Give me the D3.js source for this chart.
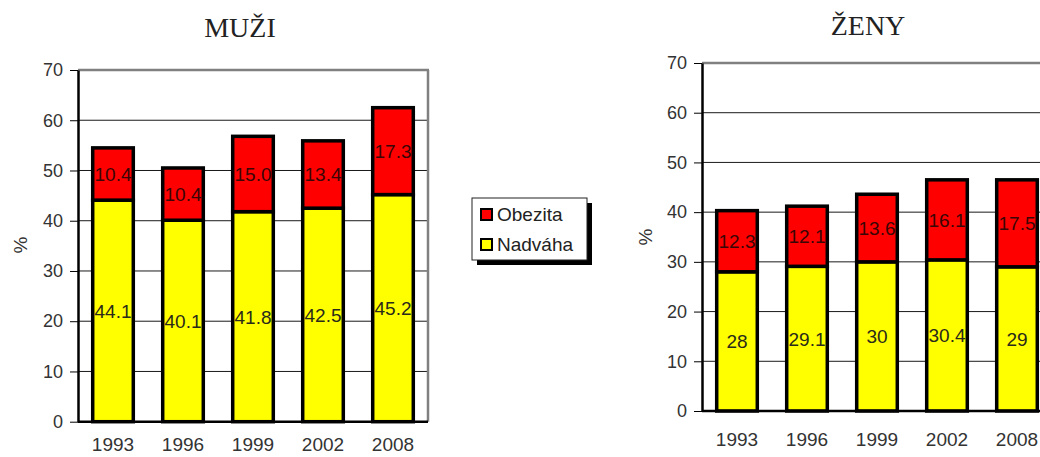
<!DOCTYPE html>
<html>
<head>
<meta charset="utf-8">
<script src="https://cdn.jsdelivr.net/npm/d3@7/dist/d3.min.js"></script>
<style>
  html, body { margin: 0; padding: 0; background: #fff; }
  svg { display: block; }
</style>
</head>
<body>
<svg id="chart" width="1040" height="457"></svg>
<script>
// Survey years
const years = ["1993", "1996", "1999", "2002", "2008"];

// Men (%)
const menOverweight = [44.1, 40.1, 41.8, 42.5, 45.2];
const menObese = [10.4, 10.4, 15.0, 13.4, 17.3];
const menObeseLabels = ["10.4", "10.4", "15.0", "13.4", "17.3"];

// Women (%)
const womenOverweight = [28, 29.1, 30, 30.4, 29];
const womenObese = [12.3, 12.1, 13.6, 16.1, 17.5];
const womenObeseLabels = ["12.3", "12.1", "13.6", "16.1", "17.5"];

const yTicks = [0, 10, 20, 30, 40, 50, 60, 70];

const seriesNames = ["Obezita", "Nadváha"];
const RED = "#ff0000";
const YELLOW = "#ffff00";

const svg = d3.select("#chart");
const FONT = "'Liberation Sans', Arial, sans-serif";

function drawPanel(opts) {
  const g = svg.append("g");
  const x = d3.scaleBand().domain(years)
    .range([opts.left, opts.right])
    .paddingInner(0.42).paddingOuter(0.21);
  const y = d3.scaleLinear().domain([0, 70]).range([opts.bottom, opts.top]);

  // horizontal gridlines
  g.append("g").selectAll("line")
    .data(yTicks.filter(t => t > 0 && t < 70))
    .join("line")
    .attr("x1", opts.left).attr("x2", opts.right)
    .attr("y1", d => y(d)).attr("y2", d => y(d))
    .attr("stroke", "#1a1a1a").attr("stroke-width", 1);

  // plot frame: grey top and right edges
  g.append("line")
    .attr("x1", opts.left).attr("x2", opts.right + 1)
    .attr("y1", y(70)).attr("y2", y(70))
    .attr("stroke", "#808080").attr("stroke-width", 2.5);
  g.append("line")
    .attr("x1", opts.right).attr("x2", opts.right)
    .attr("y1", y(70)).attr("y2", y(0))
    .attr("stroke", "#808080").attr("stroke-width", 2.5);

  const rows = years.map((yr, i) => ({
    year: yr,
    base: opts.overweight[i],
    top: opts.obese[i],
    topLabel: opts.obeseLabels[i]
  }));

  const bars = g.append("g");
  // overweight segment
  bars.selectAll("rect.ow").data(rows).join("rect")
    .attr("class", "ow")
    .attr("x", d => x(d.year))
    .attr("width", x.bandwidth())
    .attr("y", d => y(d.base))
    .attr("height", d => y(0) - y(d.base))
    .attr("fill", YELLOW).attr("stroke", "#000").attr("stroke-width", 3.5);
  // obesity segment
  bars.selectAll("rect.ob").data(rows).join("rect")
    .attr("class", "ob")
    .attr("x", d => x(d.year))
    .attr("width", x.bandwidth())
    .attr("y", d => y(d.base + d.top))
    .attr("height", d => y(d.base) - y(d.base + d.top))
    .attr("fill", RED).attr("stroke", "#000").attr("stroke-width", 3.5);

  // value labels, centred in each segment
  const labels = g.append("g")
    .attr("font-family", FONT).attr("font-size", 19)
    .attr("text-anchor", "middle");
  labels.selectAll("text.owl").data(rows).join("text")
    .attr("class", "owl")
    .attr("x", d => x(d.year) + x.bandwidth() / 2)
    .attr("y", d => y(d.base / 2))
    .attr("dy", "0.36em")
    .attr("fill", "#2a2a1a")
    .text(d => String(d.base));
  labels.selectAll("text.obl").data(rows).join("text")
    .attr("class", "obl")
    .attr("x", d => x(d.year) + x.bandwidth() / 2)
    .attr("y", d => y(d.base + d.top / 2))
    .attr("dy", "0.36em")
    .attr("fill", "#3a0505")
    .text(d => d.topLabel);

  // y axis
  const ya = g.append("g")
    .attr("transform", `translate(${opts.left},0)`)
    .call(d3.axisLeft(y).tickValues(yTicks).tickSize(8).tickPadding(7).tickSizeOuter(0));
  ya.select(".domain").attr("stroke", "#000").attr("stroke-width", 2.5);
  ya.selectAll(".tick line").attr("stroke", "#000").attr("stroke-width", 1);
  ya.selectAll("text").attr("font-family", FONT).attr("font-size", 18).attr("fill", "#333");

  // x axis
  const xa = g.append("g")
    .attr("transform", `translate(0,${opts.bottom})`)
    .call(d3.axisBottom(x).tickSize(0).tickPadding(opts.xPad).tickSizeOuter(0));
  xa.select(".domain").attr("stroke", "#000").attr("stroke-width", 2.5)
    .attr("d", `M${opts.left},0H${opts.right}`);
  xa.selectAll("text").attr("font-family", FONT).attr("font-size", 19).attr("fill", "#333");

  // axis title
  g.append("text")
    .attr("transform", `translate(${opts.pctX},${opts.pctY}) rotate(-90)`)
    .attr("text-anchor", "middle")
    .attr("dy", "0.35em")
    .attr("font-family", FONT).attr("font-size", 19).attr("fill", "#333")
    .text("%");

  // panel title
  g.append("text")
    .attr("x", opts.titleX).attr("y", opts.titleY)
    .attr("text-anchor", "middle")
    .attr("font-family", "'Liberation Serif', 'Times New Roman', serif")
    .attr("font-size", 28).attr("fill", "#222")
    .text(opts.title);
}

drawPanel({
  title: "MUŽI", titleX: 240, titleY: 37,
  left: 78, right: 428, top: 70, bottom: 421.7,
  overweight: menOverweight, obese: menObese, obeseLabels: menObeseLabels,
  pctX: 20, pctY: 245, xPad: 16
});

drawPanel({
  title: "ŽENY", titleX: 868, titleY: 35,
  left: 702, right: 1052, top: 63, bottom: 411,
  overweight: womenOverweight, obese: womenObese, obeseLabels: womenObeseLabels,
  pctX: 645, pctY: 237, xPad: 22
});

// legend with drop shadow
const lg = svg.append("g").attr("transform", "translate(472,198)");
const lw = 115, lh = 62;
lg.append("rect").attr("x", 5).attr("y", 5).attr("width", lw).attr("height", lh).attr("fill", "#000");
lg.append("rect").attr("x", 0).attr("y", 0).attr("width", lw).attr("height", lh)
  .attr("fill", "#fff").attr("stroke", "#222").attr("stroke-width", 1);
const legendColors = [RED, YELLOW];
const items = lg.selectAll("g.item").data(seriesNames).join("g")
  .attr("class", "item")
  .attr("transform", (d, i) => `translate(0,${10 + i * 30})`);
items.append("rect")
  .attr("x", 9).attr("y", 1).attr("width", 11).attr("height", 11)
  .attr("fill", (d, i) => legendColors[i]).attr("stroke", "#000").attr("stroke-width", 2);
items.append("text")
  .attr("x", 25).attr("y", 13)
  .attr("font-family", FONT).attr("font-size", 19).attr("fill", "#222")
  .text(d => d);
</script>
</body>
</html>
